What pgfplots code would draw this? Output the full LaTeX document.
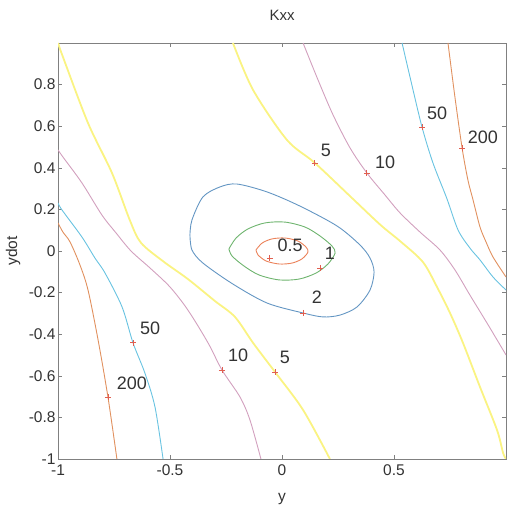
\documentclass[border=0pt]{standalone}
\usepackage{pgfplots}
\pgfplotsset{compat=1.18}
\usepackage{fontspec}
\setmainfont{Liberation Sans}
\usetikzlibrary{calc}
\definecolor{c05}{RGB}{235,130,90}
\definecolor{c1}{RGB}{110,180,110}
\definecolor{c2}{RGB}{100,150,195}
\definecolor{c5}{RGB}{250,243,130}
\definecolor{c10}{RGB}{210,160,190}
\definecolor{c50}{RGB}{105,195,225}
\definecolor{c200}{RGB}{225,145,95}
\definecolor{mk}{RGB}{225,95,80}
\begin{document}
\begin{tikzpicture}
\begin{axis}[name=ax, scale only axis, width=448pt, height=416pt,
  xmin=-1, xmax=1, ymin=-1, ymax=1,
  xtick={-1,-0.5,0,0.5}, ytick={-1,-0.8,-0.6,-0.4,-0.2,0,0.2,0.4,0.6,0.8},
  tick align=inside, major tick length=4pt,
  tick style={black!50}, axis line style={black!50},
  /pgf/number format/assume math mode=true,
  ticklabel style={font=\fontsize{15.5}{17}\selectfont, text=black!80},
  yticklabel style={xshift=1pt},
  xticklabel style={yshift=-2pt},
  title={Kxx}, title style={font=\fontsize{15}{17}\selectfont, text=black!80, at={(axis description cs:0.5,1)}, anchor=base, yshift=16pt},
  xlabel={y}, xlabel style={font=\fontsize{15.5}{17}\selectfont, text=black!80, at={(axis description cs:0.5,0)}, anchor=base, yshift=-42pt},
  ylabel={ydot}, ylabel style={font=\fontsize{15.5}{17}\selectfont, text=black!80, at={(axis description cs:-0.1,0.5)}, anchor=center},
  every axis plot/.append style={smooth, tension=0.5},
]
% level 200
\addplot[c200, line width=0.9pt] coordinates {(0.741,1.0) (0.772,0.740) (0.804,0.495) (0.830,0.341) (0.853,0.245) (0.884,0.115) (0.911,0.043) (0.942,-0.029) (1.0,-0.125)};
\addplot[c200, line width=0.9pt] coordinates {(-1.0,0.135) (-0.978,0.091) (-0.946,0.043) (-0.902,-0.067) (-0.866,-0.1875) (-0.821,-0.428) (-0.777,-0.702) (-0.737,-1.0)};
% level 50
\addplot[c50, line width=0.9pt] coordinates {(0.536,1.0) (0.575,0.82) (0.625,0.596) (0.674,0.423) (0.735,0.255) (0.786,0.101) (0.839,0.014) (0.884,-0.043) (0.942,-0.125) (1.0,-0.1875)};
\addplot[c50, line width=0.9pt] coordinates {(-1.0,0.231) (-0.982,0.197) (-0.893,0.067) (-0.835,-0.034) (-0.790,-0.106) (-0.714,-0.269) (-0.665,-0.442) (-0.612,-0.587) (-0.567,-0.75) (-0.531,-1.0)};
% level 10
\addplot[c10, line width=0.9pt] coordinates {(0.094,1.0) (0.161,0.822) (0.228,0.654) (0.304,0.495) (0.379,0.375) (0.460,0.269) (0.527,0.183) (0.616,0.091) (0.705,0.005) (0.772,-0.091) (0.839,-0.212) (0.915,-0.346) (0.987,-0.476) (1.0,-0.5)};
\addplot[c10, line width=0.9pt] coordinates {(-1.0,0.486) (-0.978,0.452) (-0.893,0.327) (-0.804,0.173) (-0.741,0.087) (-0.674,0.0) (-0.589,-0.082) (-0.5,-0.173) (-0.420,-0.284) (-0.330,-0.442) (-0.268,-0.572) (-0.1875,-0.702) (-0.143,-0.8125) (-0.094,-1.0)};
% level 5
\addplot[c5, line width=1.8pt] coordinates {(-0.219,1.0) (-0.129,0.774) (0.022,0.534) (0.147,0.423) (0.317,0.250) (0.44,0.125) (0.53,0.045) (0.629,-0.053) (0.692,-0.173) (0.750,-0.298) (0.808,-0.442) (0.884,-0.654) (0.960,-0.861) (0.987,-0.971) (1.0,-1.0)};
\addplot[c5, line width=1.8pt] coordinates {(-1.0,1.0) (-0.978,0.933) (-0.866,0.615) (-0.759,0.375) (-0.68,0.15) (-0.63,0.04) (-0.53,-0.05) (-0.42,-0.135) (-0.30,-0.24) (-0.210,-0.317) (-0.129,-0.442) (-0.031,-0.582) (0.094,-0.764) (0.214,-1.0)};
% level 2
\addplot[c2, line width=0.9pt] coordinates {(-0.411,0.077) (-0.402,0.149) (-0.353,0.260) (-0.277,0.308) (-0.201,0.322) (-0.067,0.284) (0.080,0.216) (0.246,0.120) (0.348,0.029) (0.393,-0.034) (0.411,-0.101) (0.393,-0.1875) (0.335,-0.269) (0.259,-0.308) (0.183,-0.317) (0.094,-0.298) (-0.067,-0.25) (-0.219,-0.159) (-0.353,-0.058) (-0.402,0.005) (-0.411,0.077)};
% level 1
\addplot[c1, line width=0.9pt] coordinates {(-0.237,0.010) (-0.205,0.0625) (-0.152,0.106) (-0.076,0.135) (0.013,0.139) (0.103,0.115) (0.170,0.072) (0.223,0.024) (0.237,-0.010) (0.205,-0.0625) (0.152,-0.106) (0.076,-0.135) (-0.013,-0.139) (-0.103,-0.115) (-0.170,-0.072) (-0.223,-0.024) (-0.237,0.010)};
% level 0.5
\addplot[c05, line width=0.9pt] coordinates {(-0.116,0.005) (-0.089,0.038) (-0.045,0.058) (0.013,0.0625) (0.071,0.048) (0.107,0.019) (0.116,-0.005) (0.089,-0.038) (0.045,-0.058) (-0.013,-0.0625) (-0.071,-0.048) (-0.107,-0.019) (-0.116,0.005)};
% label markers
\addplot[only marks, mark=+, mark size=3pt, mk, mark options={line width=0.9pt}] coordinates {(-0.054,-0.034) (0.170,-0.082) (0.094,-0.298) (0.147,0.423) (0.379,0.375) (0.625,0.596) (0.804,0.495) (-0.031,-0.582) (-0.268,-0.572) (-0.665,-0.442) (-0.777,-0.702)};
\begin{scope}[every node/.style={font=\fontsize{18}{20}\selectfont, text=black!80, inner sep=0pt}]
\node at (axis cs:0.036,0.029) {0.5};
\node at (axis cs:0.214,-0.010) {1};
\node at (axis cs:0.156,-0.221) {2};
\node at (axis cs:0.196,0.486) {5};
\node at (axis cs:0.460,0.428) {10};
\node at (axis cs:0.692,0.663) {50};
\node at (axis cs:0.897,0.548) {200};
\node at (axis cs:0.013,-0.510) {5};
\node at (axis cs:-0.196,-0.5) {10};
\node at (axis cs:-0.589,-0.370) {50};
\node at (axis cs:-0.670,-0.635) {200};
\end{scope}
\end{axis}
\pgfresetboundingbox
\path ($(ax.south west)+(-58pt,-51pt)$) rectangle ($(ax.north east)+(0pt,43pt)$);
\end{tikzpicture}
\end{document}
